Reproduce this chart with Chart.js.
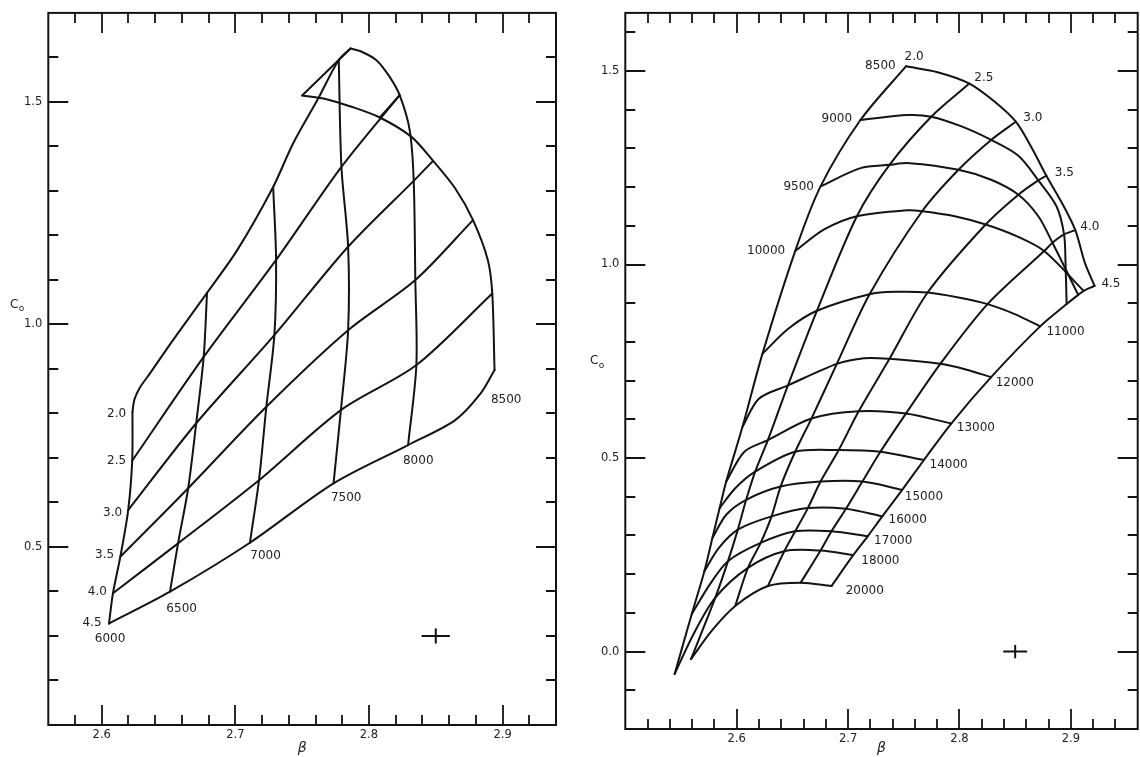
<!DOCTYPE html>
<html lang="en">
<head>
<meta charset="UTF-8">
<title>beta - c0 model grids</title>
<script src="https://cdn.jsdelivr.net/npm/chart.js"></script>
<style>
  html, body { margin: 0; padding: 0; background: #fff; }
  body { width: 1140px; height: 757px; position: relative; overflow: hidden; }
  canvas { position: absolute; top: 0; }
  #left { left: 0; }
  #right { left: 570px; }
</style>
</head>
<body>
<canvas id="left" width="570" height="757"></canvas>
<canvas id="right" width="570" height="757"></canvas>
<script>
// ---------- left panel: 6000 - 8500 K ----------
const leftTemps = ['6000', '6500', '7000', '7500', '8000', '8500'];
const leftGravs = ['2.0', '2.5', '3.0', '3.5', '4.0', '4.5'];

// constant Teff, running log g 4.5 -> 2.0; points are [beta, c0]
const leftIsotherms = [
  [[2.6054,0.328],[2.6084,0.396],[2.6139,0.478],[2.6198,0.583],[2.6228,0.694],[2.6230,0.804]],
  [[2.6511,0.3995],[2.6571,0.508],[2.6647,0.632],[2.6707,0.778],[2.6763,0.927],[2.6788,1.071]],
  [[2.7109,0.5095],[2.7177,0.650],[2.7232,0.815],[2.7292,0.976],[2.7305,1.145],[2.7283,1.309]],
  [[2.7735,0.643],[2.7790,0.8076],[2.7844,0.987],[2.7844,1.1745],[2.7794,1.354],[2.7774,1.594]],
  [[2.8293,0.729],[2.8355,0.9087],[2.8347,1.0996],[2.8335,1.3226],[2.8305,1.4365],[2.8230,1.5151],
   [2.8155,1.5562],[2.8056,1.5938],[2.7931,1.6146],[2.7862,1.620]],
  [[2.8940,0.8974],[2.8923,1.0697],[2.8890,1.1445],[2.8779,1.2344],[2.8646,1.3055],[2.8480,1.3676],
   [2.8318,1.4215],[2.8081,1.4650],[2.7857,1.4904],[2.7682,1.5062],[2.7500,1.5145]]
];

// constant log g, running 6000 -> 8500 K
const leftIsogravs = [
  [[2.6230,0.804],[2.6245,0.832],[2.6285,0.858],[2.6361,0.890],[2.6524,0.961],[2.6788,1.071],
   [2.7014,1.167],[2.7283,1.309],[2.7432,1.4067],[2.7620,1.5077],[2.7774,1.594],[2.7862,1.620],[2.7500,1.5145]],
  [[2.6228,0.694],[2.6763,0.927],[2.7305,1.145],[2.7794,1.354],[2.8230,1.5151],[2.8081,1.4650]],
  [[2.6198,0.583],[2.6707,0.778],[2.7292,0.976],[2.7844,1.1745],[2.8335,1.3226],[2.8480,1.3676]],
  [[2.6139,0.478],[2.6647,0.632],[2.7232,0.815],[2.7844,0.987],[2.8347,1.0996],[2.8779,1.2344]],
  [[2.6084,0.396],[2.6571,0.508],[2.7177,0.650],[2.7790,0.8076],[2.8355,0.9087],[2.8923,1.0697]],
  [[2.6054,0.328],[2.6511,0.3995],[2.7109,0.5095],[2.7735,0.643],[2.8293,0.729],[2.8646,0.7851],
   [2.8836,0.845],[2.8940,0.8974]]
];

const leftTempLabelAt = [[2.6062,0.2926],[2.6598,0.362],[2.7226,0.4796],[2.7830,0.6093],[2.8369,0.6937],[2.9027,0.830]];
const leftGravLabelAt = [[2.6111,0.7986],[2.6111,0.6937],[2.6081,0.577],[2.6021,0.482],[2.5967,0.3995],[2.5927,0.329]];

const leftBetaTicks = [2.6, 2.7, 2.8, 2.9];
const leftC0Ticks = [0.5, 1.0, 1.5];
const leftCross = [2.85, 0.30];

// ---------- right panel: 8500 - 20000 K ----------
const rightTemps = ['8500', '9000', '9500', '10000', '11000', '12000', '13000',
                    '14000', '15000', '16000', '17000', '18000', '20000'];
const rightGravs = ['2.0', '2.5', '3.0', '3.5', '4.0', '4.5'];

// constant Teff, running log g 2.0 -> 4.5 (20000 K starts at 2.5)
const rightIsotherms = [
  [[2.7519,1.5120],[2.7796,1.4975],[2.8089,1.4675],[2.8317,1.4204],[2.8506,1.3689],[2.8659,1.2961],
   [2.8780,1.2293],[2.8920,1.1590],[2.9040,1.0887],[2.9125,1.0048],[2.9213,0.9448]],
  [[2.7111,1.3732],[2.7535,1.3861],[2.7747,1.3818],[2.8024,1.3561],[2.8284,1.3218],[2.8529,1.2807],
   [2.8708,1.2173],[2.8871,1.1504],[2.8939,1.0776],[2.8952,1.0048],[2.8962,0.8977]],
  [[2.6753,1.2018],[2.7111,1.2490],[2.7372,1.2575],[2.7551,1.2618],[2.7991,1.2447],[2.8284,1.2190],
   [2.8529,1.1804],[2.8708,1.1247],[2.8835,1.0562],[2.9066,0.9216]],
  [[2.6525,1.0347],[2.6785,1.0905],[2.7079,1.1247],[2.7535,1.1401],[2.7665,1.1376],[2.7958,1.1247],
   [2.8235,1.1033],[2.8512,1.0733],[2.8760,1.0347],[2.9115,0.9319]],
  [[2.6231,0.7691],[2.6460,0.8334],[2.6720,0.8805],[2.7193,0.9234],[2.7437,0.9294],[2.7714,0.9276],
   [2.7991,0.9148],[2.8252,0.8977],[2.8496,0.8719],[2.8724,0.8402]],
  [[2.6052,0.5806],[2.6199,0.6534],[2.6460,0.6877],[2.6899,0.7434],[2.7144,0.7580],[2.7372,0.7563],
   [2.7828,0.7434],[2.8056,0.7288],[2.8284,0.7091]],
  [[2.5906,0.4392],[2.6069,0.5163],[2.6280,0.5463],[2.6671,0.6020],[2.7095,0.6209],[2.7519,0.6149],[2.7926,0.5892]],
  [[2.5847,0.3707],[2.5987,0.4221],[2.6166,0.4649],[2.6525,0.5163],[2.6916,0.5206],[2.7290,0.5163],[2.7681,0.4949]],
  [[2.5782,0.2935],[2.5906,0.3535],[2.6085,0.3921],[2.6394,0.4264],[2.6753,0.4392],[2.7128,0.4392],[2.7486,0.4178]],
  [[2.5710,0.2078],[2.5840,0.2678],[2.6010,0.3150],[2.6313,0.3492],[2.6639,0.3707],[2.6981,0.3689],[2.7307,0.3492]],
  [[2.5596,0.0964],[2.5759,0.1736],[2.5922,0.2336],[2.6215,0.2807],[2.6525,0.3107],[2.6851,0.3107],[2.7176,0.2978]],
  [[2.5443,-0.0578],[2.5612,0.0450],[2.5808,0.1393],[2.6101,0.2164],[2.6427,0.2593],[2.6753,0.2610],[2.7046,0.2490]],
  [[2.5590,-0.0192],[2.5775,0.0536],[2.5987,0.1179],[2.6280,0.1693],[2.6574,0.1779],[2.6851,0.1693]]
];

// constant log g, running 8500 K -> hottest model (4.5 kept in order along the line)
const rightIsogravs = [
  [[2.7519,1.5120],[2.7111,1.3732],[2.6753,1.2018],[2.6525,1.0347],[2.6231,0.7691],[2.6052,0.5806],
   [2.5906,0.4392],[2.5847,0.3707],[2.5782,0.2935],[2.5710,0.2078],[2.5596,0.0964],[2.5443,-0.0578]],
  [[2.8089,1.4675],[2.7747,1.3818],[2.7372,1.2575],[2.7079,1.1247],[2.6720,0.8805],[2.6460,0.6877],
   [2.6280,0.5463],[2.6166,0.4649],[2.6085,0.3921],[2.6010,0.3150],[2.5922,0.2336],[2.5808,0.1393],[2.5590,-0.0192]],
  [[2.8506,1.3689],[2.8284,1.3218],[2.7991,1.2447],[2.7665,1.1376],[2.7193,0.9234],[2.6899,0.7434],
   [2.6671,0.6020],[2.6525,0.5163],[2.6394,0.4264],[2.6313,0.3492],[2.6215,0.2807],[2.6101,0.2164],[2.5987,0.1179]],
  [[2.8780,1.2293],[2.8708,1.2173],[2.8529,1.1804],[2.8235,1.1033],[2.7714,0.9276],[2.7372,0.7563],
   [2.7095,0.6209],[2.6916,0.5206],[2.6753,0.4392],[2.6639,0.3707],[2.6525,0.3107],[2.6427,0.2593],[2.6280,0.1693]],
  [[2.9040,1.0887],[2.8939,1.0776],[2.8835,1.0562],[2.8760,1.0347],[2.8252,0.8977],[2.7828,0.7434],
   [2.7519,0.6149],[2.7290,0.5163],[2.7128,0.4392],[2.6981,0.3689],[2.6851,0.3107],[2.6753,0.2610],[2.6574,0.1779]],
  [[2.9213,0.9448],[2.9115,0.9319],[2.9066,0.9216],[2.8962,0.8977],[2.8724,0.8402],[2.8284,0.7091],
   [2.7926,0.5892],[2.7681,0.4949],[2.7486,0.4178],[2.7307,0.3492],[2.7176,0.2978],[2.7046,0.2490],[2.6851,0.1693]]
];

const rightTempLabelAt = [[2.7290,1.5120],[2.6899,1.3775],[2.6557,1.2001],[2.6264,1.0347],[2.8952,0.8265],
  [2.8496,0.6946],[2.8147,0.5789],[2.7903,0.4821],[2.7681,0.4007],[2.7535,0.3407],[2.7405,0.2867],
  [2.7290,0.2353],[2.7150,0.1564]];
const rightGravLabelAt = [[2.7593,1.5360],[2.8219,1.4829],[2.8659,1.3792],[2.8942,1.2361],[2.9171,1.0973],[2.9360,0.9491]];

const rightBetaTicks = [2.6, 2.7, 2.8, 2.9];
const rightC0Ticks = [0.0, 0.5, 1.0, 1.5];
const rightCross = [2.85, 0.00];

// half sizes of the error cross, [beta, c0]
const crossHalf = [0.01, 0.015];

const INK = '#131313';
const TEXT = '#222';
Chart.defaults.font.family = "'DejaVu Sans', sans-serif";

// break a traced curve where it doubles back so the spline keeps the corner sharp
function splitAtTurns(pts) {
  const runs = [];
  let start = 0;
  for (let i = 1; i < pts.length - 1; i++) {
    const ax = (pts[i][0] - pts[i - 1][0]) * 3, ay = pts[i][1] - pts[i - 1][1];
    const bx = (pts[i + 1][0] - pts[i][0]) * 3, by = pts[i + 1][1] - pts[i][1];
    if (ax * bx + ay * by < 0) { runs.push(pts.slice(start, i + 1)); start = i; }
  }
  runs.push(pts.slice(start));
  return runs;
}

function steps(lo, hi, step) {
  const out = [];
  for (let k = Math.ceil(lo / step - 1e-6); k * step <= hi + 1e-9; k++) {
    const v = +(k * step).toFixed(4);
    if (v > lo + 1e-6 && v < hi - 1e-6) out.push(v);
  }
  return out;
}

// frame, inward ticks on all four sides, curve labels and the c0 caption
const frameAndLabels = {
  id: 'frameAndLabels',
  afterDraw(chart, args, o) {
    const { ctx, chartArea: a } = chart;
    const xs = chart.scales.x, ys = chart.scales.y;
    const isMajor = (v, list) => list.some(t => Math.abs(t - v) < 1e-6);
    ctx.save();
    ctx.strokeStyle = INK;
    ctx.lineWidth = 2;
    ctx.strokeRect(a.left, a.top, a.right - a.left, a.bottom - a.top);

    ctx.lineWidth = 1.8;
    ctx.beginPath();
    steps(xs.min, xs.max, o.xMinor).forEach(v => {
      const len = isMajor(v, o.xMajor) ? 20 : 10;
      const px = Math.round(xs.getPixelForValue(v));
      ctx.moveTo(px, a.bottom); ctx.lineTo(px, a.bottom - len);
      ctx.moveTo(px, a.top); ctx.lineTo(px, a.top + len);
    });
    steps(ys.min, ys.max, o.yMinor).forEach(v => {
      const len = isMajor(v, o.yMajor) ? 20 : 10;
      const py = Math.round(ys.getPixelForValue(v));
      ctx.moveTo(a.left, py); ctx.lineTo(a.left + len, py);
      ctx.moveTo(a.right, py); ctx.lineTo(a.right - len, py);
    });
    ctx.stroke();

    ctx.fillStyle = TEXT;
    ctx.font = "12px 'DejaVu Sans', sans-serif";
    ctx.textAlign = 'center';
    ctx.textBaseline = 'middle';
    o.labels.forEach(([text, pos]) => {
      ctx.fillText(text, xs.getPixelForValue(pos[0]), ys.getPixelForValue(pos[1]));
    });

    // y caption, horizontal, left of the frame
    const cy = ys.getPixelForValue(o.captionAt);
    const cx = a.left - o.captionGap;
    ctx.font = "12px 'DejaVu Sans', sans-serif";
    ctx.textAlign = 'right';
    ctx.fillText('C', cx, cy);
    ctx.font = "9px 'DejaVu Sans', sans-serif";
    ctx.textAlign = 'left';
    ctx.fillText('o', cx + 0.5, cy + 4);
    ctx.restore();
  }
};

function buildPanel(id, p) {
  const datasets = [];
  const line = (pts, tension) => ({
    data: pts, showLine: true, borderColor: INK, borderWidth: 2,
    pointRadius: 0, tension, borderCapStyle: 'round', borderJoinStyle: 'round'
  });
  p.isotherms.concat(p.isogravs).forEach(curve => {
    splitAtTurns(curve).forEach(run => datasets.push(line(run, 0.3)));
  });
  const [bx, cy] = p.cross;
  datasets.push(line([[bx - crossHalf[0], cy], [bx + crossHalf[0], cy]], 0));
  datasets.push(line([[bx, cy - crossHalf[1]], [bx, cy + crossHalf[1]]], 0));

  const labels = p.temps.map((t, i) => [t, p.tempAt[i]])
    .concat(p.gravs.map((g, i) => [g, p.gravAt[i]]));

  return new Chart(document.getElementById(id), {
    type: 'scatter',
    data: { datasets },
    options: {
      responsive: false,
      animation: false,
      devicePixelRatio: 1,
      layout: { padding: p.pad },
      plugins: {
        legend: { display: false },
        tooltip: { enabled: false },
        frameAndLabels: {
          xMinor: 0.02, yMinor: 0.1, xMajor: p.xTicks, yMajor: p.yTicks,
          labels, captionAt: p.captionAt, captionGap: p.captionGap
        }
      },
      scales: {
        x: {
          type: 'linear', min: p.xRange[0], max: p.xRange[1],
          afterBuildTicks: s => { s.ticks = p.xTicks.map(v => ({ value: v })); },
          afterFit: s => { s.height = p.xAxisH; },
          grid: { display: false, drawTicks: false },
          border: { display: false },
          ticks: { padding: 3, color: TEXT, font: { size: 11.5 }, autoSkip: false, maxRotation: 0,
                   callback: v => v.toFixed(1) },
          title: { display: true, text: 'β', color: TEXT, font: { size: 14, style: 'italic' },
                   padding: { top: 0, bottom: 0 } }
        },
        y: {
          type: 'linear', min: p.yRange[0], max: p.yRange[1],
          afterBuildTicks: s => { s.ticks = p.yTicks.map(v => ({ value: v })); },
          afterFit: s => { s.width = p.yAxisW; },
          grid: { display: false, drawTicks: false },
          border: { display: false },
          ticks: { padding: 6, color: TEXT, font: { size: 11.5 }, autoSkip: false,
                   callback: v => v.toFixed(1) }
        }
      }
    },
    plugins: [frameAndLabels]
  });
}

buildPanel('left', {
  isotherms: leftIsotherms, isogravs: leftIsogravs,
  temps: leftTemps, gravs: leftGravs, tempAt: leftTempLabelAt, gravAt: leftGravLabelAt,
  xTicks: leftBetaTicks, yTicks: leftC0Ticks, cross: leftCross,
  xRange: [2.56, 2.94], yRange: [0.1, 1.7],
  pad: { left: 0, top: 12.7, right: 14, bottom: 0 }, yAxisW: 48.3, xAxisH: 32,
  captionAt: 1.045, captionGap: 30
});

buildPanel('right', {
  isotherms: rightIsotherms, isogravs: rightIsogravs,
  temps: rightTemps, gravs: rightGravs, tempAt: rightTempLabelAt, gravAt: rightGravLabelAt,
  xTicks: rightBetaTicks, yTicks: rightC0Ticks, cross: rightCross,
  xRange: [2.5, 2.96], yRange: [-0.2, 1.65],
  pad: { left: 0, top: 9, right: 2.3, bottom: 0 }, yAxisW: 55.3, xAxisH: 28,
  captionAt: 0.75, captionGap: 27
});
</script>
</body>
</html>
